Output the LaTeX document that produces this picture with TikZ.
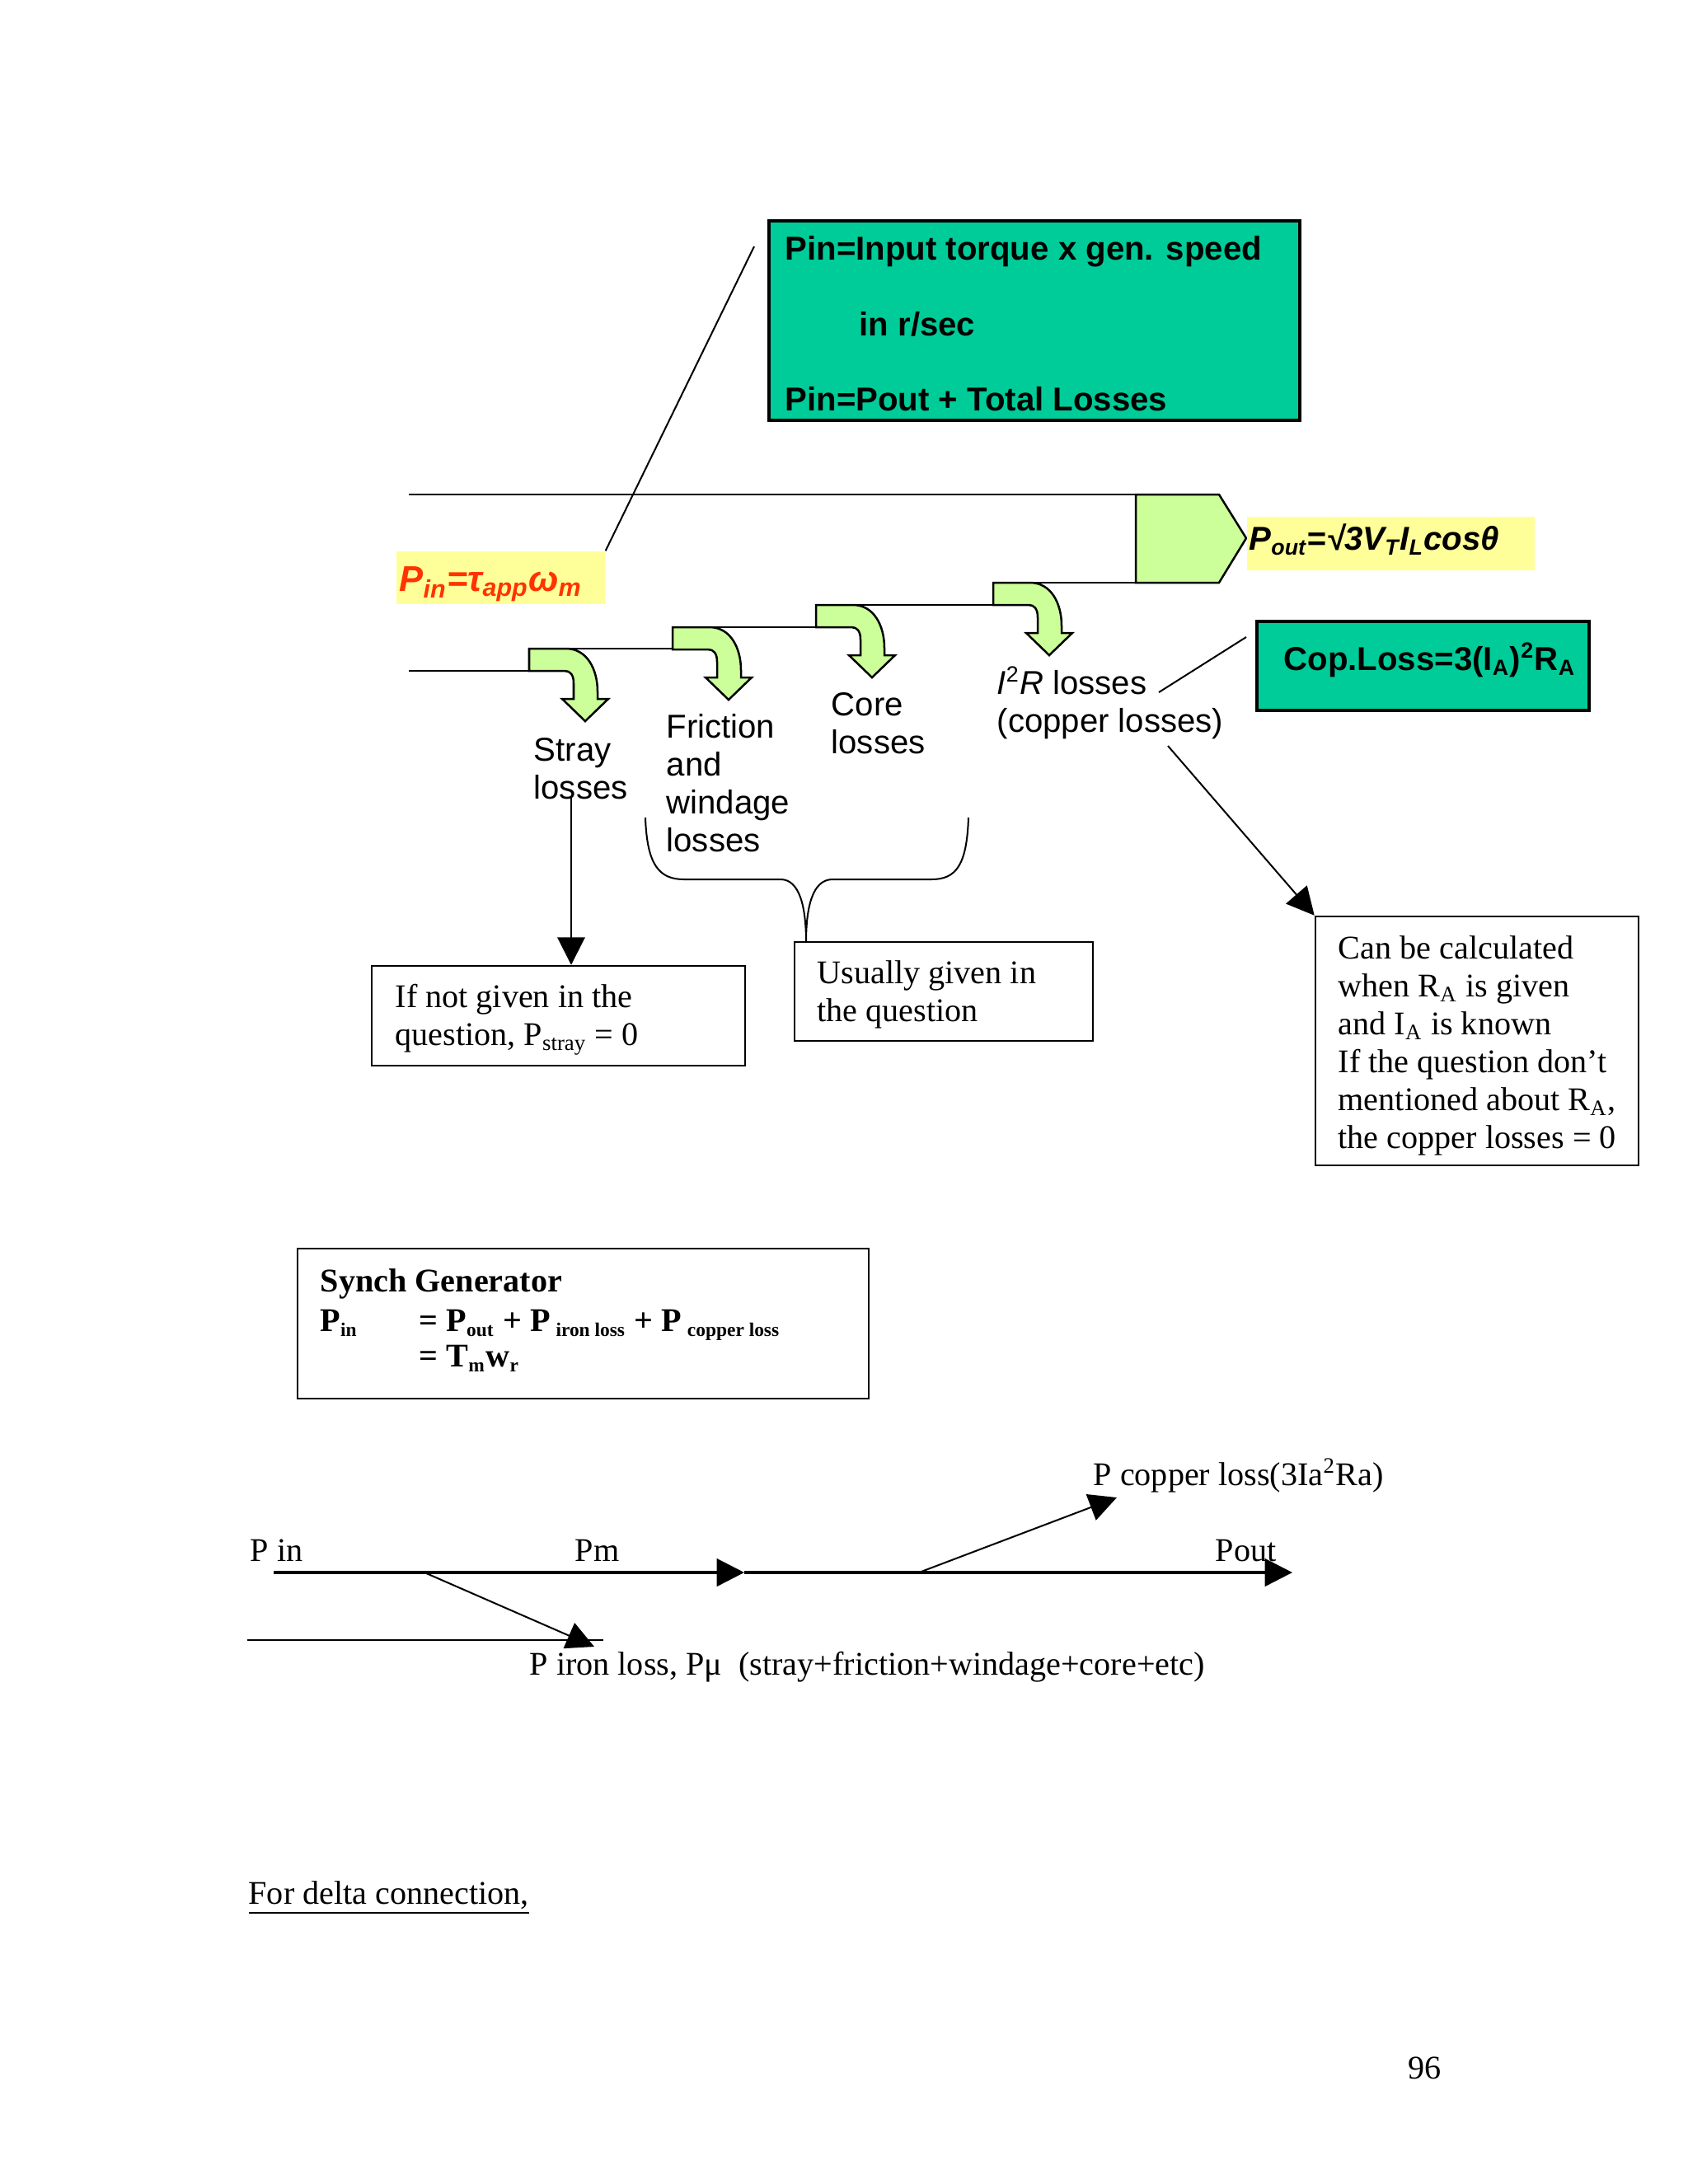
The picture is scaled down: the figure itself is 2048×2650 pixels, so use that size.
\documentclass[tikz,border=0pt]{standalone}
\usepackage{fontspec}
\setmainfont{Liberation Serif}
\setsansfont{Liberation Sans}
\usetikzlibrary{arrows.meta,fit}

\definecolor{tealgreen}{RGB}{0,204,153}
\definecolor{lightgreen}{RGB}{204,255,153}
\definecolor{paleyellow}{RGB}{255,255,153}
\definecolor{pinred}{RGB}{255,51,0}

% stacked lines, baseline on the first line
\newcommand{\lns}[1]{\begin{tabular}[t]{@{}l@{}}#1\end{tabular}}
% small subscript of the generator box
\newcommand{\lowsub}[1]{\textsubscript{\fontsize{7}{8}\selectfont #1}}

\tikzset{
lossarrow/.pic={
    \draw[fill=lightgreen, line width=0.75pt]
        (0,0) -- (45,0) .. controls (70,0) and (83,25) .. (83,52)
        -- (83,61) -- (96,61) -- (68,88) -- (40,61) -- (54,61)
        -- (54,42) .. controls (54,32) and (50,27) .. (43,27)
        -- (0,27) -- cycle;
}
}

\begin{document}
\begin{tikzpicture}[
x=0.2988pt, y=-0.2988pt,
losslabel/.style={font=\sffamily\fontsize{12}{13.8}\selectfont, anchor=base west, inner sep=0pt},
boldsans/.style={font=\sffamily\bfseries\fontsize{12}{13.8}\selectfont, anchor=base west, inner sep=0pt},
serifnote/.style={font=\fontsize{12}{13.8}\selectfont, anchor=base west, inner sep=0pt},
boldserif/.style={font=\bfseries\fontsize{12}{13.8}\selectfont, anchor=base west, inner sep=0pt},
tealbox/.style={draw, line width=1pt, fill=tealgreen, inner sep=0pt},
yellowbox/.style={fill=paleyellow, inner sep=0pt},
notebox/.style={draw, line width=0.75pt, inner sep=0pt},
powerline/.style={line width=0.75pt},
callout/.style={line width=0.6pt},
tipped/.style={-{Triangle[length=10pt,width=10pt]}},
bigflow/.style={line width=1pt, tipped},
branchflow/.style={line width=0.6pt, tipped}
]
\useasboundingbox[fill=white] (0,0) rectangle (2048,2650);

% input power box
\node[tealbox, fit={(933,268) (1577,510)}] (topbox) {};
\node[boldsans] (pinline) at (952,315) {Pin=Input torque x gen. speed};
\node[boldsans] (speedline) at (1042,407) {in r/sec};
\node[boldsans] (totalline) at (952,498) {Pin=Pout + Total Losses};

% power flow with the loss arrows
\draw[powerline] (496,600) -- (1378,600);
\draw[powerline] (496,814) -| (642,787) -| (816,761) -| (990,734) -| (1205,707) -- (1378,707);
\draw[powerline, fill=lightgreen] (1378,600) -- (1479,600) -- (1512,653) -- (1479,707) -- (1378,707) -- cycle;
\foreach \x/\y in {642/787, 816/761, 990/734, 1205/707}
    \pic at (\x,\y) {lossarrow};

\node[yellowbox, fit={(481,669) (734,733)}] (pinbox) {};
\node[boldsans, font=\sffamily\bfseries\itshape\fontsize{13}{15}\selectfont, text=pinred] (pinlabel) at (484,717)
    {P\textsubscript{in}=τ\textsubscript{app}ω\textsubscript{m}};
\coordinate (pincall) at (915,299);
\draw[callout] (pincall) -- (pinbox.north east);

\node[yellowbox, fit={(1513,627) (1862,692)}] (poutbox) {};
\node[boldsans, font=\sffamily\bfseries\itshape\fontsize{12}{13.8}\selectfont] (poutlabel) at (1515,667)
    {P\textsubscript{out}=√3V\textsubscript{T}I\textsubscript{L}cosθ};

% loss names
\node[losslabel] (stray) at (647,923) {\lns{Stray\\losses}};
\node[losslabel] (friction) at (808,895) {\lns{Friction\\and\\windage\\losses}};
\node[losslabel] (core) at (1008,868) {\lns{Core\\losses}};
\node[losslabel] (copper) at (1209,842) {\lns{\textit{I}\textsuperscript{2}\textit{R} losses\\(copper losses)}};

% copper loss formula
\node[tealbox, fit={(1525,754) (1928,862)}] (copbox) {};
\node[boldsans] (coplabel) at (1557,813) {Cop.Loss=3(I\textsubscript{A})\textsuperscript{2}R\textsubscript{A}};
\coordinate (copcall) at (1406,840);
\coordinate (copcallend) at (1512,773);
\draw[callout] (copcall) -- (copcallend);

% notes
\node[notebox, fit={(451,1172) (904,1293)}] (straybox) {};
\node[serifnote] (straytext) at (479,1222) {\lns{If not given in the\\question, P\textsubscript{stray} = 0}};
\coordinate (strayfoot) at (693,968);
\draw[callout, tipped] (strayfoot) -- (strayfoot |- straybox.north);

\node[notebox, fit={(964,1143) (1326,1263)}] (usualbox) {};
\node[serifnote] (usualtext) at (991,1193) {\lns{Usually given in\\the question}};
\coordinate (bracetip) at (978,1143);
\draw[callout] (783,992) .. controls (785,1050) and (800,1067) .. (830,1067) -- (947,1067)
    .. controls (970,1067) and (978,1100) .. (bracetip)
    .. controls (978,1100) and (986,1067) .. (1010,1067) -- (1130,1067)
    .. controls (1160,1067) and (1173,1050) .. (1175,992);

\node[notebox, fit={(1596,1112) (1988,1414)}] (calcbox) {};
\node[serifnote] (calctext) at (1623,1163) {\lns{Can be calculated\\when R\textsubscript{A} is given\\and I\textsubscript{A} is known\\If the question don’t\\mentioned about R\textsubscript{A},\\the copper losses = 0}};
\coordinate (copfoot) at (1417,905);
\draw[callout, tipped] (copfoot) -- (calcbox.north west);

% synch generator
\node[notebox, fit={(361,1515) (1054,1697)}] (synchbox) {};
\node[boldserif] (synchtitle) at (388,1567) {Synch Generator};
\node[boldserif] (synchpin) at (388,1615) {P\lowsub{in}};
\node[boldserif] (synchsum) at (508,1615) {= P\lowsub{out} + P\,\lowsub{iron loss} + P\,\lowsub{copper loss}};
\node[boldserif] (synchtorque) at (508,1658) {= T\lowsub{m}w\lowsub{r}};

% power stages
\coordinate (pinstart) at (332,1908);
\coordinate (pmtip) at (903,1908);
\coordinate (pouttip) at (1568,1908);
\coordinate (ironfork) at (515,1908);
\coordinate (irontip) at (721,1998);
\coordinate (cufork) at (1115,1908);
\coordinate (cutip) at (1355,1817);
\coordinate (ironleft) at (300,1990);
\coordinate (ironright) at (732,1990);
\draw[bigflow] (pinstart) -- (pmtip);
\draw[bigflow] (pmtip) -- (pouttip);
\draw[branchflow] (ironfork) -- (irontip);
\draw[branchflow] (cufork) -- (cutip);
\draw[powerline] (ironleft) -- (ironright);

\node[serifnote] (pinname) at (303,1894) {P in};
\node[serifnote] (pmname) at (697,1894) {Pm};
\node[serifnote] (poutname) at (1474,1894) {Pout};
\node[serifnote] (cuname) at (1326,1802) {P copper loss(3Ia\textsuperscript{2}Ra)};
\node[serifnote] (ironname) at (642,2032) {P iron loss, Pμ\ \ (stray+friction+windage+core+etc)};

\node[serifnote] (deltanote) at (301,2310) {\underline{For delta connection,}};
\node[serifnote] (pagenum) at (1708,2522) {96};
\end{tikzpicture}
\end{document}
